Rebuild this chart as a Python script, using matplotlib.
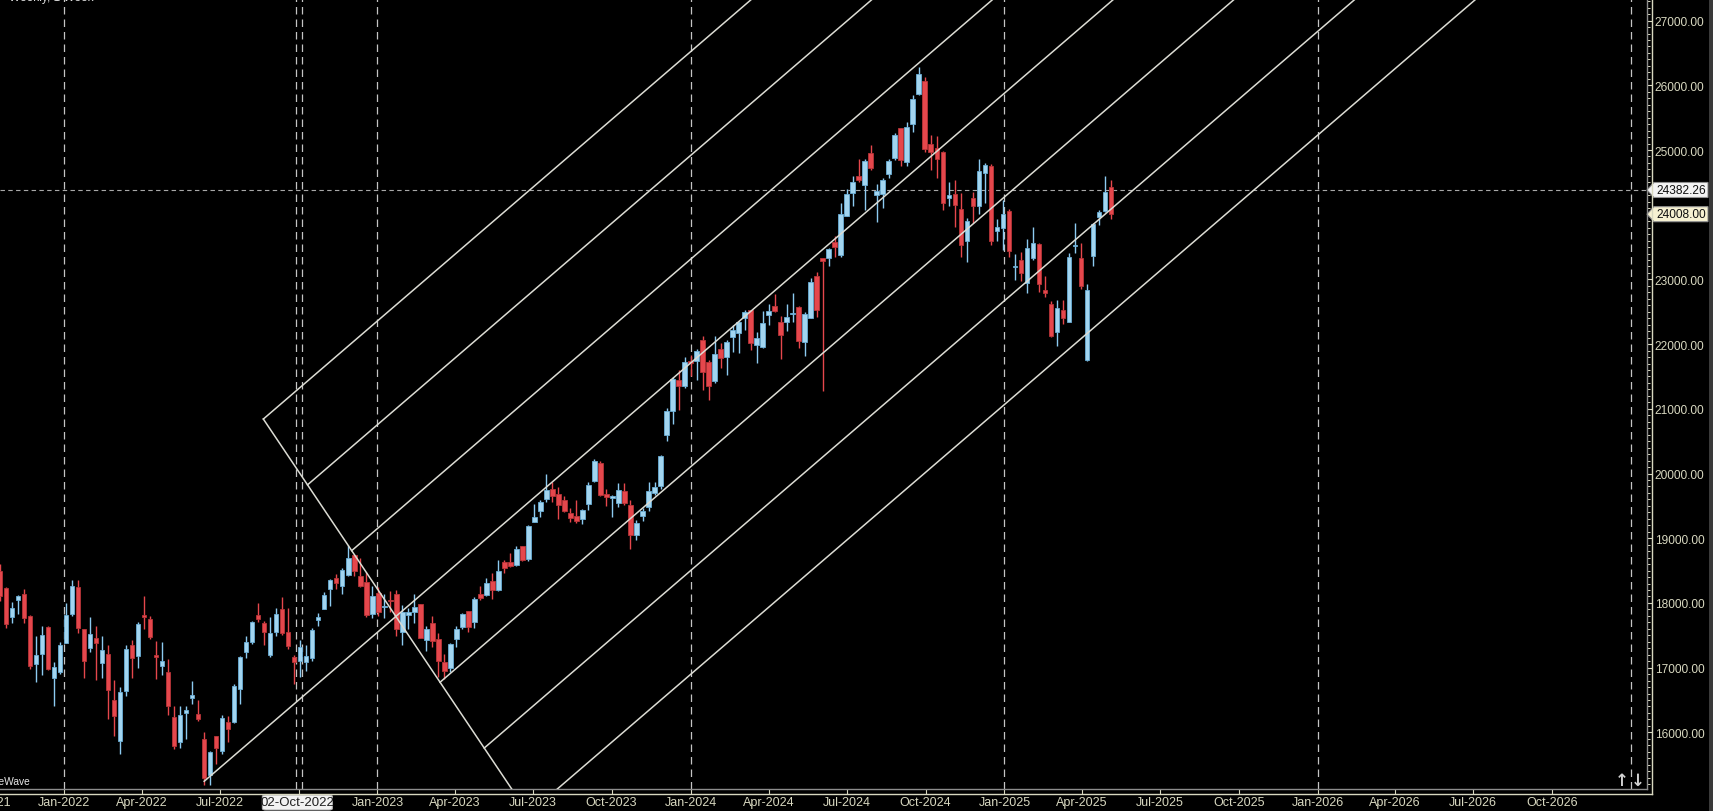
import matplotlib
matplotlib.use("Agg")
import matplotlib.pyplot as plt
import matplotlib.dates as mdates
from matplotlib.ticker import MultipleLocator
from matplotlib.lines import Line2D
from matplotlib.patches import Polygon, FancyBboxPatch
import numpy as np
import pandas as pd

# weekly candles (open, high, low, close), first week starts 18-Oct-2021
first_week = "2021-10-18"
ohlc_2021 = [
    (18500, 18604, 18034, 18114), (18230, 18241, 17613, 17672), (17783, 18012, 17697, 17917),
    (18040, 18123, 17836, 18102), (18140, 18210, 17688, 17765), (17800, 17806, 16985, 17027),
    (17050, 17490, 16782, 17197), (17210, 17640, 16891, 17511), (17630, 17640, 16966, 16985),
    (16840, 17080, 16410, 17003), (16937, 17400, 16900, 17354),
]
ohlc_2022 = [
    (17387, 18000, 17383, 17812), (17830, 18350, 17800, 18255), (18250, 18350, 17540, 17617),
    (17600, 17600, 16836, 17102), (17300, 17780, 17244, 17516), (17456, 17640, 16810, 17374),
    (17076, 17490, 16843, 17276), (17210, 17350, 16203, 16658), (16500, 16815, 15945, 16245),
    (15870, 16694, 15671, 16630), (16645, 17345, 16555, 17287), (17350, 17430, 16840, 17153),
    (17185, 17703, 17000, 17670), (17820, 18114, 17600, 17784), (17750, 17800, 17442, 17476),
    (17195, 17414, 16824, 17171), (17025, 17400, 16888, 17102), (16930, 17132, 16260, 16411),
    (16241, 16400, 15735, 15782), (15855, 16400, 15750, 16266), (16300, 16414, 15903, 16352),
    (16530, 16793, 16444, 16584), (16282, 16496, 16172, 16205), (15900, 16000, 15183, 15294),
    (15340, 15707, 15191, 15699), (15940, 15950, 15511, 15752), (15716, 16275, 15661, 16220),
    (16160, 16248, 15858, 16049), (16160, 16752, 16143, 16719), (16670, 17172, 16438, 17158),
    (17240, 17490, 17154, 17397), (17400, 17719, 17359, 17698), (17818, 17992, 17710, 17758),
    (17690, 17726, 17345, 17558), (17195, 17777, 17166, 17539), (17555, 17925, 17484, 17833),
    (17905, 18096, 17500, 17531), (17550, 17919, 17291, 17327), (17165, 17200, 16747, 17094),
    (17108, 17428, 16855, 17314), (17090, 17348, 16950, 17186), (17150, 17607, 17100, 17576),
    (17741, 17838, 17650, 17786), (17905, 18176, 17900, 18117), (18215, 18362, 17960, 18349),
    (18385, 18442, 18209, 18308), (18265, 18534, 18133, 18512), (18430, 18888, 18410, 18696),
    (18740, 18759, 18410, 18497), (18415, 18696, 18249, 18269), (18323, 18473, 17779, 17806),
    (17830, 18265, 17774, 18105),
]
ohlc_2023 = [
    (18153, 18251, 17796, 17859), (17941, 18141, 17774, 17956), (18050, 18183, 17853, 18027),
    (18138, 18200, 17494, 17604), (17550, 17972, 17353, 17854), (17818, 17916, 17600, 17856),
    (17864, 18134, 17685, 17944), (17980, 17990, 17455, 17465), (17432, 17645, 17255, 17594),
    (17690, 17800, 17324, 17413), (17442, 17529, 16850, 17100), (17087, 17207, 16828, 16945),
    (16990, 17381, 16940, 17360), (17442, 17638, 17312, 17600), (17628, 17842, 17597, 17828),
    (17875, 17880, 17553, 17624), (17710, 18089, 17612, 18065), (18138, 18267, 18042, 18069),
    (18127, 18389, 18100, 18315), (18343, 18458, 18060, 18203), (18204, 18662, 18178, 18499),
    (18637, 18662, 18464, 18534), (18637, 18777, 18550, 18563), (18590, 18887, 18578, 18826),
    (18885, 18886, 18647, 18665), (18680, 19201, 18647, 19189), (19255, 19524, 19255, 19331),
    (19420, 19595, 19327, 19565), (19605, 19991, 19562, 19745), (19760, 19867, 19563, 19646),
    (19683, 19795, 19296, 19517), (19590, 19645, 19412, 19428), (19390, 19465, 19253, 19310),
    (19345, 19584, 19229, 19266), (19300, 19458, 19223, 19435), (19525, 19867, 19432, 19820),
    (19890, 20222, 19865, 20192), (20156, 20196, 19657, 19674), (19680, 19766, 19492, 19638),
    (19622, 19661, 19333, 19653), (19539, 19850, 19480, 19751), (19730, 19850, 19518, 19542),
    (19521, 19593, 18837, 19047), (19053, 19276, 18973, 19230), (19345, 19464, 19263, 19425),
    (19486, 19875, 19414, 19732), (19700, 19875, 19670, 19795), (19800, 20291, 19768, 20267),
    (20601, 21006, 20507, 20969), (20970, 21492, 20769, 21457), (21444, 21593, 20977, 21349),
    (21350, 21801, 21329, 21731),
]
ohlc_2024 = [
    (21740, 21834, 21500, 21711), (21741, 21928, 21448, 21894), (22062, 22124, 21285, 21572),
    (21722, 21750, 21137, 21353), (21434, 22126, 21400, 21854), (21923, 22011, 21629, 21782),
    (21805, 22068, 21530, 22040), (22104, 22297, 21875, 22212), (22170, 22353, 21860, 22338),
    (22402, 22525, 22224, 22493), (22526, 22526, 21905, 22023), (21990, 22180, 21710, 22096),
    (21953, 22516, 21947, 22327), (22454, 22619, 22303, 22513), (22590, 22775, 22503, 22519),
    (22340, 22427, 21777, 22147), (22340, 22625, 22198, 22419), (22460, 22794, 22348, 22476),
    (22573, 22588, 21933, 22055), (22027, 22502, 21821, 22466), (22402, 23026, 22400, 22957),
    (23054, 23110, 22417, 22531), (23338, 23338, 21281, 23290), (23326, 23490, 23206, 23465),
    (23578, 23667, 23350, 23501), (23382, 24174, 23350, 24010), (23985, 24401, 23980, 24323),
    (24333, 24592, 24141, 24502), (24596, 24854, 24508, 24530), (24452, 24861, 24074, 24834),
    (24958, 25078, 24686, 24718), (24302, 24472, 23893, 24367), (24320, 24563, 24099, 24541),
    (24628, 24867, 24563, 24823), (24880, 25268, 24850, 25236), (25333, 25333, 24753, 24852),
    (24820, 25433, 24753, 25357), (25400, 25849, 25285, 25791), (25872, 26277, 25847, 26179),
    (26063, 26134, 24966, 25014), (25095, 25234, 24694, 24964), (25027, 25212, 24567, 24854),
    (24965, 24978, 24073, 24181), (24253, 24498, 24140, 24304), (24320, 24537, 23816, 24148),
    (24087, 24336, 23350, 23533), (23598, 23956, 23263, 23907), (24253, 24354, 23873, 24131),
    (24139, 24857, 24008, 24677), (24640, 24792, 24180, 24768), (24748, 24781, 23537, 23587),
    (23742, 23938, 23600, 23813), (23794, 24226, 23461, 24004),
]
ohlc_2025 = [
    (24052, 24089, 23344, 23432), (23196, 23390, 22986, 23203), (23300, 23426, 22976, 23092),
    (22939, 23632, 22786, 23482), (23326, 23807, 23300, 23560), (23547, 23568, 22800, 22929),
    (22830, 23049, 22725, 22796), (22613, 22668, 22105, 22125), (22190, 22676, 21965, 22553),
    (22520, 22676, 22314, 22397), (22345, 23402, 22340, 23350), (23515, 23869, 23412, 23519),
    (23338, 23565, 22857, 22904), (21758, 22923, 21743, 22829), (23368, 23872, 23210, 23851),
    (23970, 24070, 23845, 24045), (24055, 24598, 24040, 24350), (24430, 24536, 23935, 24008),
]

# channel drawing: corner point, step along the base line, slope of the parallels
fork_corner = ("2022-08-21", 20842)
fork_step_days = 51.5
fork_step_price = -1017
fork_slope = 11.4          # points per day
fork_lines = 7
fork_pivot_date = "2022-06-13"   # the middle line starts at this low
fork_middle = 3

last_price = 24382.26
close_price = 24008.00
cursor_date = "2022-10-02"
extra_vlines = ["2022-09-28", "2022-10-05"]

view_start = "2021-10-18"
view_end = "2027-01-20"
price_min, price_max = 15124, 27334

W, H = 1713, 812
def fx(px):
    return px / W
def fy(py):
    return 1 - py / H

bg = "black"
axis_col = "#d8d8c0"
up_body, up_edge = "#a2d5f0", "#6aaed6"
dn_body, dn_edge = "#e5474c", "#b83438"

plt.rcParams["font.family"] = ["Liberation Sans", "DejaVu Sans"]

fig = plt.figure(figsize=(W / 100, H / 100), dpi=100, facecolor=bg)
ax = fig.add_axes([0, fy(790), fx(1647), fy(0) - fy(790)])
ax.set_facecolor(bg)

ohlc = np.array(ohlc_2021 + ohlc_2022 + ohlc_2023 + ohlc_2024 + ohlc_2025, dtype=float)
weeks = pd.date_range(first_week, periods=len(ohlc), freq="7D")
xd = mdates.date2num(weeks)
o, h, l, c = ohlc.T
up = c >= o

# grid: dashed verticals at year starts
years = pd.date_range("2022-01-01", "2027-01-01", freq="YS")
for d in list(years) + [pd.Timestamp(s) for s in extra_vlines]:
    ax.axvline(mdates.date2num(d), color="#c4c4c4", lw=0.9, ls=(0, (6, 4)), zorder=1)
ax.axhline(last_price, color="#a8a8a8", lw=0.8, ls=(0, (4, 3)), zorder=1)

# candles
wick_col = np.where(up, "#8ccaf0", dn_body)
ax.vlines(xd, l, h, colors=wick_col, lw=1.0, zorder=2)
body_h = np.maximum(np.abs(c - o), 14)
body_b = np.minimum(o, c)
ax.bar(xd[up], body_h[up], bottom=body_b[up], width=5.2, color=up_body,
       edgecolor=up_edge, linewidth=0.6, zorder=3)
ax.bar(xd[~up], body_h[~up], bottom=body_b[~up], width=5.2, color=dn_body,
       edgecolor=dn_edge, linewidth=0.6, zorder=3)

# channel lines
line_col = "#dcdcd4"
x0 = mdates.date2num(pd.Timestamp(fork_corner[0]))
p0 = fork_corner[1]
top_price = price_max + 200
for k in range(fork_lines):
    xs = x0 + k * fork_step_days
    ps = p0 + k * fork_step_price
    if k == fork_middle:
        xp = mdates.date2num(pd.Timestamp(fork_pivot_date))
        ps = ps - (xs - xp) * fork_slope
        xs = xp
    xe = xs + (top_price - ps) / fork_slope
    ax.plot([xs, xe], [ps, top_price], color=line_col, lw=1.1, zorder=4)
ax.plot([x0, x0 + fork_lines * fork_step_days],
        [p0, p0 + fork_lines * fork_step_price], color=line_col, lw=1.1, zorder=4)

# axes styling
for s in ["top", "left"]:
    ax.spines[s].set_visible(False)
for s in ["right", "bottom"]:
    ax.spines[s].set_color("#8c8c8c")
    ax.spines[s].set_linewidth(1.0)

quarters = pd.date_range("2021-10-01", "2026-10-01", freq="QS")
ax.set_xticks(mdates.date2num(quarters))
ax.set_xticklabels(["" if q == pd.Timestamp("2022-10-01") else q.strftime("%b-%Y") for q in quarters])
ax.tick_params(axis="x", colors=axis_col, length=3.6, width=0.8, pad=1.5, labelsize=9)

ax.yaxis.tick_right()
ax.set_yticks(np.arange(16000, 27001, 1000))
ax.set_yticklabels([f"{v:.2f}" for v in np.arange(16000, 27001, 1000)])
ax.yaxis.set_minor_locator(MultipleLocator(100))
ax.tick_params(axis="y", which="major", colors=axis_col, length=3.6, width=0.8, pad=2, labelsize=8.6)
ax.tick_params(axis="y", which="minor", colors=axis_col, length=2.2, width=0.7)

# limits last, set_xticks would widen them otherwise
ax.set_xlim(mdates.date2num(pd.Timestamp(view_start)), mdates.date2num(pd.Timestamp(view_end)))
ax.set_ylim(price_min, price_max)

# the Oct-2021 label sits left of the view and is cut by the window edge
oct21 = ax.transData.transform((mdates.date2num(quarters[0]), price_min))[0]
fig.text(oct21 / W, fy(803.5), quarters[0].strftime("%b-%Y"), color=axis_col, fontsize=9,
         ha="center", va="center")

# outer frame lines
fig.add_artist(Line2D([fx(1652), fx(1652)], [fy(795), fy(0)], color=axis_col, lw=1.0))
fig.add_artist(Line2D([fx(0), fx(1652)], [fy(795), fy(795)], color=axis_col, lw=1.0))
fig.add_artist(Polygon([(fx(1709), fy(0)), (fx(1713), fy(0)), (fx(1713), fy(812)), (fx(1709), fy(812))],
                       closed=True, facecolor="#3a3a3a", edgecolor="none"))

# price markers on the right axis
def price_tag(price, face):
    yc = ax.transData.transform((0, price))[1]
    ypx = H - yc
    pts = [(1647, ypx), (1654, ypx - 7.5), (1708, ypx - 7.5), (1708, ypx + 7.5), (1654, ypx + 7.5)]
    fig.add_artist(Polygon([(fx(a), fy(b)) for a, b in pts], closed=True,
                           facecolor=face, edgecolor="#909090", lw=0.8))
    fig.text(fx(1681), fy(ypx), f"{price:.2f}", color="#101010", fontsize=8.6,
             ha="center", va="center")

price_tag(last_price, "#f4f4f4")
price_tag(close_price, "#f6f1d2")

# cursor date label on the time axis
cx = ax.transData.transform((mdates.date2num(pd.Timestamp(cursor_date)), 0))[0] - 2
fig.add_artist(FancyBboxPatch((fx(cx - 35), fy(811)), fx(70), fy(796) - fy(811),
                              boxstyle="round,pad=0,rounding_size=0.002",
                              facecolor="#f2f2f2", edgecolor="#b0b0b0", lw=0.8))
fig.text(fx(cx), fy(803.5), "02-Oct-2022", color="#202020", fontsize=9.5, ha="center", va="center")

# texts
fig.text(fx(94), fy(1.5), "Weekly, 1 Week", color="#e0e0e0", fontsize=8.6, ha="right", va="baseline")
fig.text(fx(30), fy(785), "MotiveWave", color="#e8e8e8", fontsize=7.4, ha="right", va="baseline")
fig.text(fx(1622), fy(781), "\u2191", color="#d0d0d0", fontsize=12, ha="center", va="center",
         fontweight="bold", family="DejaVu Sans")
fig.text(fx(1638), fy(781), "\u2193", color="#d0d0d0", fontsize=12, ha="center", va="center",
         fontweight="bold", family="DejaVu Sans")

fig.savefig("out.png", dpi=100, facecolor=bg)
